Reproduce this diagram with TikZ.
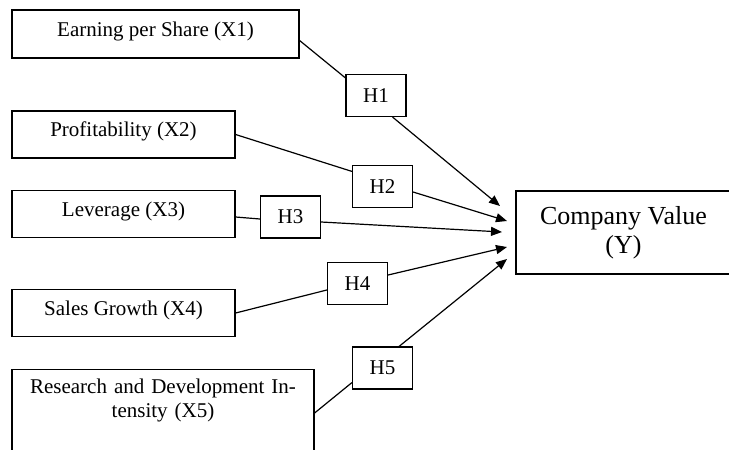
\documentclass[tikz,border=0pt]{standalone}
\usepackage{fontspec}
\setmainfont{Liberation Serif}
\usepackage{tikz}
\usetikzlibrary{arrows.meta}

\tikzset{
  boxline/.style={draw, line width=0.6pt, inner sep=0pt},
  varbox/.style={boxline, font=\fontsize{10.5}{12}\selectfont, text height=7pt, text depth=5pt},
  hypbox/.style={boxline, font=\fontsize{10.5}{12}\selectfont, minimum width=30pt, minimum height=21pt},
  hypline/.style={line width=0.6pt},
  hyparrow/.style={hypline, -{Triangle[length=5.5pt,width=4.5pt]}}
}

\begin{document}
\begin{tikzpicture}[x=0.5pt, y=-0.5pt]
    \useasboundingbox (0,0) rectangle (729,450);

    % independent variables
    \node[varbox, minimum width=143.5pt, minimum height=24pt] (x1) at (155.5,34) {Earning per Share (X1)};
    \node[varbox, minimum width=111.5pt, minimum height=23.5pt] (x2) at (123.5,134.5) {Profitability (X2)};
    \node[varbox, minimum width=111.5pt, minimum height=23.5pt] (x3) at (123.5,214) {Leverage (X3)};
    \node[varbox, minimum width=111.5pt, minimum height=23.5pt] (x4) at (123.5,313) {Sales Growth (X4)};
    \node[boxline, anchor=north, text width=151pt, align=center, inner ysep=4.8pt,
          font=\fontsize{10.5}{12}\selectfont] (x5) at (163,369)
          {Research and Development In-\\tensity (X5)\rule[-34pt]{0pt}{34pt}};

    % dependent variable
    \node[boxline, minimum width=107.5pt, minimum height=41.5pt, align=center,
          font=\fontsize{13}{14.5}\selectfont] (cv) at (623.5,232.5) {Company Value\\(Y)};

    % hypotheses
    \foreach \n/\x/\y in {1/376/95.5, 2/382.5/186.5, 3/290.5/217, 4/357.5/283.5, 5/382.5/368}
      \node[hypbox] (h\n) at (\x,\y) {H\n};

    \coordinate (t1) at (500,206);
    \coordinate (t2) at (507,221);
    \coordinate (t3) at (502,232);
    \coordinate (t4) at (507,247);
    \coordinate (t5) at (507,259);

    \draw[hypline] ([yshift=-3.25pt]x1.east) -- ([yshift=-2pt]h1.north west);
    \draw[hyparrow] ([xshift=-7pt]h1.south east) -- (t1);
    \draw[hypline] (x2.east) -- ([yshift=-3.25pt]h2.north west);
    \draw[hyparrow] ([yshift=-2.75pt]h2.east) -- (t2);
    \draw[hypline] ([yshift=-1.5pt]x3.east) -- ([yshift=-1pt]h3.west);
    \draw[hyparrow] ([yshift=-2.5pt]h3.east) -- (t3);
    \draw[hypline] (x4.east) -- ([yshift=-3.25pt]h4.west);
    \draw[hyparrow] ([yshift=4.25pt]h4.east) -- (t4);
    \draw[hypline] ([yshift=-22pt]x5.north east) -- ([yshift=3.5pt]h5.south west);
    \draw[hyparrow] ([xshift=-7pt]h5.north east) -- (t5);
\end{tikzpicture}
\end{document}
